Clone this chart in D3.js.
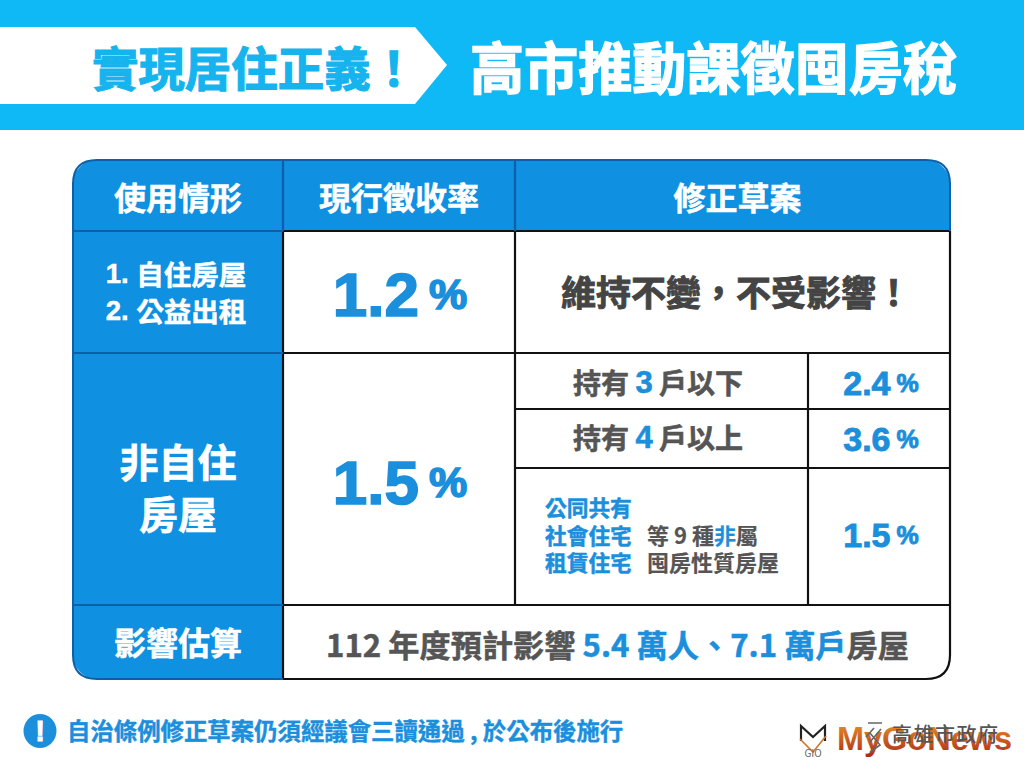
<!DOCTYPE html>
<html><head><meta charset="utf-8">
<script src="https://cdn.jsdelivr.net/npm/d3@7"></script>
<style>html,body{margin:0;padding:0;background:#fff}svg{display:block}
text{font-family:"Noto Sans CJK TC","Noto Sans",sans-serif;font-weight:700}
.num{font-family:"Liberation Sans",Arial,sans-serif;font-weight:700}</style>
</head><body><div id="c"></div>
<script>
// ---- content ----
const titleLeft = "實現居住正義！";
const titleRight = "高市推動課徵囤房稅";
const headers = ["使用情形", "現行徵收率", "修正草案"];
const rowLabels = [["1. ", "自住房屋"], ["2. ", "公益出租"], ["非自住", "房屋"], ["影響估算"]];
const currentRates = [1.2, 1.5];
const unchangedNote = "維持不變，不受影響！";
const draftLabels = [["持有 ", "3", " 戶以下"], ["持有 ", "4", " 戶以上"]];
const draftRates = [2.4, 3.6, 1.5];
const exemptBlue = ["公同共有", "社會住宅", "租賃住宅"];
const exemptGrey = [[["等 9 種", 0], ["非", 1], ["屬", 0]], [["囤房性質房屋", 0]]];
const impactRuns = [["112 年度預計影響 ", 0], ["5.4 萬人、7.1 萬戶", 1], ["房屋", 0]];
const footnote = "自治條例修正草案仍須經議會三讀通過 , 於公布後施行";
const logoTexts = ["MyGoNews", "高雄市政府", "GIO"];

// ---- layout ----
const W = 1024, H = 768;
const BLUE = "#1090e0", SKY = "#0fb9f5", INK = "#111", GREY = "#555", NUM = "#1b8fdc", EDGE = "#0d5fa8";
const x = d3.scaleOrdinal().domain(["a","b","c","d","e"]).range([73,283,515,808,950]);
const y = d3.scaleOrdinal().domain(["top","h","r1","r2a","r2b","r2c","bot"]).range([160,231,353,409,468,605,679]);

const svg = d3.select("#c").append("svg").attr("width",W).attr("height",H).attr("viewBox",`0 0 ${W} ${H}`);
const defs = svg.append("defs");
const g = defs.append("linearGradient").attr("id","lg").attr("x1",0).attr("x2",0).attr("y1",0).attr("y2",1);
g.append("stop").attr("offset","0").attr("stop-color","#f09a2a");
g.append("stop").attr("offset","1").attr("stop-color","#a92a18");
defs.append("clipPath").attr("id","card").append("rect")
  .attr("x",x("a")).attr("y",y("top")).attr("width",x("e")-x("a")).attr("height",y("bot")-y("top")).attr("rx",24);

function put(px, py, runs, size, anchor="middle", sw=0.5, extra={}) {
  const t = svg.append("text").attr("x",px).attr("y",py).attr("font-size",size)
    .attr("text-anchor",anchor).attr("dominant-baseline","central");
  Object.entries(extra).forEach(([k,v])=>t.attr(k,v));
  runs.forEach(r=>t.append("tspan").text(r[0]).attr("fill",r[1]).attr("stroke",r[1]).attr("stroke-width",sw)
     .attr("class",r[2]||null).attr("font-size",r[3]||null));
  return t;
}

// banner
svg.append("rect").attr("width",W).attr("height",130).attr("fill",SKY);
svg.append("path").attr("fill","#fff")
  .attr("d",d3.line()([[0,27],[415,27],[447,65],[415,104],[0,104]])+"Z");
put(92,65,[[titleLeft,"#16b4ee"]],47,"start",1.2,{"textLength":325,"lengthAdjust":"spacingAndGlyphs"});
put(470,64,[[titleRight,"#fff"]],56,"start",1.4,{"textLength":487,"lengthAdjust":"spacingAndGlyphs"});

// table fills
const card = svg.append("g").attr("clip-path","url(#card)");
const span=(px,py,w,h,f)=>card.append("rect").attr("x",px).attr("y",py).attr("width",w).attr("height",h).attr("fill",f);
span(x("a"),y("top"),x("e")-x("a"),y("bot")-y("top"),"#fff");
span(x("a"),y("top"),x("e")-x("a"),y("h")-y("top"),BLUE);
span(x("a"),y("top"),x("b")-x("a"),y("bot")-y("top"),BLUE);

// grid
const rules = [
 ["b","e","h","h",INK],["b","e","r1","r1",INK],["c","e","r2a","r2a",INK],["c","e","r2b","r2b",INK],["b","e","r2c","r2c",INK],
 ["b","b","h","bot",INK],["c","c","h","r2c",INK],["d","d","r1","r2c",INK],
 ["a","b","h","h",EDGE],["a","b","r1","r1",EDGE],["a","b","r2c","r2c",EDGE],
 ["b","b","top","h",EDGE],["c","c","top","h",EDGE]
];
svg.selectAll("line.r").data(rules).join("line").attr("class","r")
  .attr("x1",d=>x(d[0])).attr("x2",d=>x(d[1])).attr("y1",d=>y(d[2])).attr("y2",d=>y(d[3]))
  .attr("stroke",d=>d[4]).attr("stroke-width",2.2);
const rr=24;
svg.append("path").attr("fill","none").attr("stroke",INK).attr("stroke-width",2.2)
  .attr("d",`M${x("e")} ${y("h")} V${y("bot")-rr} Q${x("e")} ${y("bot")} ${x("e")-rr} ${y("bot")} H${x("b")}`);
svg.append("path").attr("fill","none").attr("stroke",EDGE).attr("stroke-width",2)
  .attr("d",`M${x("b")} ${y("bot")} H${x("a")+rr} Q${x("a")} ${y("bot")} ${x("a")} ${y("bot")-rr} V${y("top")+rr} Q${x("a")} ${y("top")} ${x("a")+rr} ${y("top")} H${x("e")-rr} Q${x("e")} ${y("top")} ${x("e")} ${y("top")+rr} V${y("h")}`);

// headers
const mid=(p,q)=>(x(p)+x(q))/2;
put(mid("a","b"),196,[[headers[0],"#fff"]],32);
put(mid("b","c"),196,[[headers[1],"#fff"]],32);
put(mid("c","e")+5,196,[[headers[2],"#fff"]],32);

// left labels
put(176,273,[[rowLabels[0][0],"#fff","num"],[rowLabels[0][1],"#fff"]],27.5);
put(176,310,[[rowLabels[1][0],"#fff","num"],[rowLabels[1][1],"#fff"]],27.5);
put(178,460,[[rowLabels[2][0],"#fff"]],39,"middle",0.7);
put(178,512,[[rowLabels[2][1],"#fff"]],39,"middle",0.7);
put(178,641,[[rowLabels[3][0],"#fff"]],32);

// rates
const rate=(px,py,v,s1,s2,gap,sw)=>{
  const t=svg.append("text").attr("x",px).attr("y",py).attr("text-anchor","middle").attr("dominant-baseline","central").attr("class","num").attr("fill",NUM).attr("stroke",NUM).attr("stroke-width",sw);
  t.append("tspan").text(v.toFixed(1)).attr("font-size",s1);
  t.append("tspan").text("%").attr("font-size",s2).attr("dx",gap);};
rate(400,294,currentRates[0],62,43,10,1.6);
rate(400,482,currentRates[1],62,43,10,1.6);
put(736,290,[[unchangedNote,"#444"]],35,"middle",0.9);

// draft rows
draftLabels.forEach((d,i)=>put(658,[382,437][i],[[d[0],GREY],[d[1],NUM,"num",31],[d[2],GREY]],28,"middle",0.6));
draftRates.forEach((v,i)=>rate(881,[383,439,535][i],v,34,25,6,0.9));

// exempt list
exemptBlue.forEach((t,i)=>put(545,[506,534,561][i],[[t,NUM]],21.7,"start",0.5));
exemptGrey.forEach((runs,i)=>put(647,[534,561][i],runs.map(r=>[r[0],r[1]?NUM:GREY]),22,"start",0.2));

// impact
put(617.5,643,impactRuns.map(r=>[r[0],r[1]?NUM:GREY]),31.2,"middle",0.5);

// footnote
svg.append("ellipse").attr("cx",40).attr("cy",731).attr("rx",16.5).attr("ry",17).attr("fill",NUM);
svg.append("text").attr("x",40).attr("y",731).attr("text-anchor","middle").attr("dominant-baseline","central").attr("font-size",29).attr("fill","#fff").attr("stroke","#fff").attr("class","num").text("!");
put(67,730,[[footnote,NUM]],23.4,"start",0.4);

// logo
const lg=svg.append("g").attr("fill","none").attr("stroke","#222").attr("stroke-width",2.2);
lg.append("path").attr("d","M801 741 L801 726 L813 737 L825 726 L825 741");
lg.append("path").attr("d","M800 739 L813 752 L826 736").attr("stroke","#c9772f").attr("stroke-width",1.6);
svg.append("text").attr("x",813).attr("y",752).attr("text-anchor","middle").attr("dominant-baseline","central").attr("font-size",10).attr("fill","#666").style("font-weight",400).attr("font-family","Liberation Sans").text(logoTexts[2]);
svg.append("text").attr("x",837).attr("y",750).attr("font-size",34).attr("fill","url(#lg)").attr("class","num").attr("textLength",175).attr("lengthAdjust","spacingAndGlyphs").text(logoTexts[0]);
svg.append("path").attr("d","M868 723 L882 723 M874 728 L866 737 M870 733 L880 745 L870 752 M881 729 L870 742").attr("fill","none").attr("stroke","#666").attr("stroke-width",1.6);
svg.append("text").attr("x",892).attr("y",733).attr("font-size",20).attr("fill","#555").style("font-weight",500).attr("dominant-baseline","central").attr("textLength",106).text(logoTexts[1]);
</script></body></html>
